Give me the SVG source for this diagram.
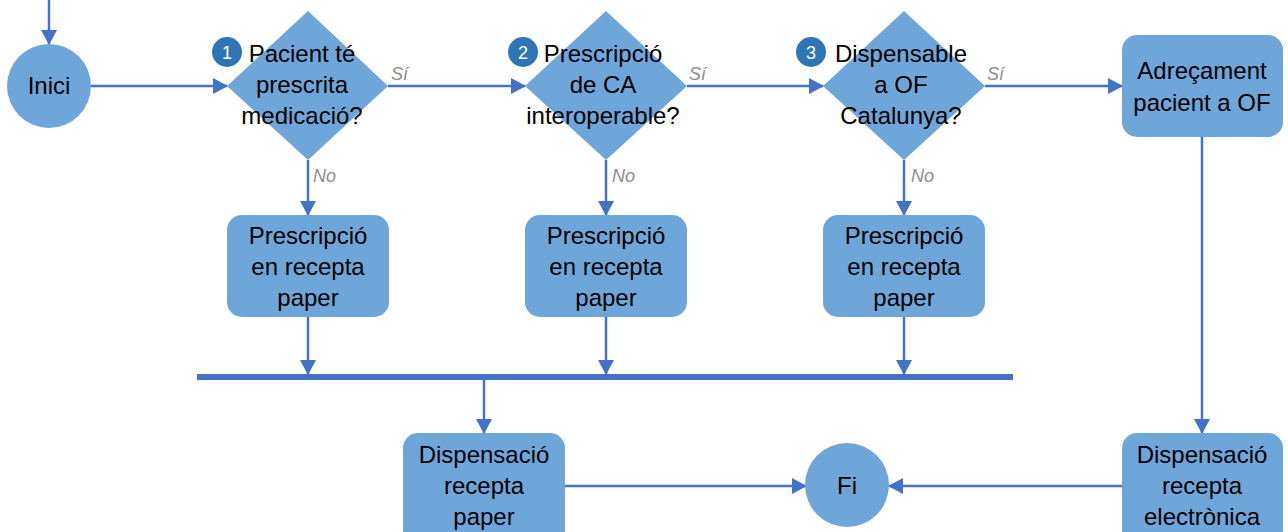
<svg xmlns="http://www.w3.org/2000/svg" width="1288" height="532" viewBox="0 0 1288 532">
<style>
.n{fill:#6FA6DA;stroke:none}
.t{font-family:"Liberation Sans",Arial,sans-serif;font-size:24px;fill:#000;text-anchor:middle}
.c{fill:none;stroke:#4472C4;stroke-width:2.5}
.lbl{font-family:"Liberation Sans",Arial,sans-serif;font-size:18px;font-style:italic;fill:#8C8C8C}
.b{fill:#2E75B6}
.bt{font-family:"Liberation Sans",Arial,sans-serif;font-size:18px;fill:#fff;text-anchor:middle}
</style>
<defs>
<marker id="ah" markerUnits="userSpaceOnUse" markerWidth="15" markerHeight="16" viewBox="0 0 15 16" refX="14" refY="8" orient="auto">
<path d="M0,0 L15,8 L0,16 Z" fill="#4472C4"/>
</marker>
</defs>
<rect width="1288" height="532" fill="#fff"/>
<g id="connectors">
<line class="c" x1="49" y1="0" x2="49" y2="44" marker-end="url(#ah)"/>
<line class="c" x1="91" y1="86" x2="227" y2="86" marker-end="url(#ah)"/>
<line class="c" x1="388" y1="86" x2="525" y2="86" marker-end="url(#ah)"/>
<line class="c" x1="687" y1="86" x2="823" y2="86" marker-end="url(#ah)"/>
<line class="c" x1="985" y1="86" x2="1122" y2="86" marker-end="url(#ah)"/>
<line class="c" x1="308" y1="160" x2="308" y2="215" marker-end="url(#ah)"/>
<line class="c" x1="606" y1="160" x2="606" y2="215" marker-end="url(#ah)"/>
<line class="c" x1="904" y1="160" x2="904" y2="215" marker-end="url(#ah)"/>
<line class="c" x1="308" y1="317" x2="308" y2="374" marker-end="url(#ah)"/>
<line class="c" x1="606" y1="317" x2="606" y2="374" marker-end="url(#ah)"/>
<line class="c" x1="904" y1="317" x2="904" y2="374" marker-end="url(#ah)"/>
<line x1="197" y1="377" x2="1013" y2="377" stroke="#4472C4" stroke-width="6"/>
<line class="c" x1="484" y1="380" x2="484" y2="433" marker-end="url(#ah)"/>
<line class="c" x1="1202" y1="137" x2="1202" y2="433" marker-end="url(#ah)"/>
<line class="c" x1="565" y1="486" x2="806" y2="486" marker-end="url(#ah)"/>
<line class="c" x1="1122" y1="486" x2="889" y2="486" marker-end="url(#ah)"/>
<text class="lbl" x="391" y="80">Sí</text>
<text class="lbl" x="689" y="80">Sí</text>
<text class="lbl" x="987" y="80">Sí</text>
<text class="lbl" x="313" y="182">No</text>
<text class="lbl" x="612" y="182">No</text>
<text class="lbl" x="911" y="182">No</text>
</g>
<g id="inici">
<circle class="n" cx="49" cy="86" r="42"/>
<text class="t" x="49" y="94">Inici</text>
</g>
<g id="d1">
<polygon class="n" points="308,11 388,86 308,160 227,86"/>
<text class="t" x="302" y="62">Pacient té</text>
<text class="t" x="302" y="93">prescrita</text>
<text class="t" x="302" y="124">medicació?</text>
<circle class="b" cx="227" cy="52" r="15"/>
<text class="bt" x="227" y="58.5">1</text>
</g>
<g id="d2">
<polygon class="n" points="606,11 687,86 606,160 525,86"/>
<text class="t" x="603" y="62">Prescripció</text>
<text class="t" x="603" y="93">de CA</text>
<text class="t" x="603" y="124">interoperable?</text>
<circle class="b" cx="523" cy="52" r="15"/>
<text class="bt" x="523" y="58.5">2</text>
</g>
<g id="d3">
<polygon class="n" points="904,11 985,86 904,160 823,86"/>
<text class="t" x="901" y="62">Dispensable</text>
<text class="t" x="901" y="93">a OF</text>
<text class="t" x="901" y="124">Catalunya?</text>
<circle class="b" cx="811" cy="52" r="15"/>
<text class="bt" x="811" y="58.5">3</text>
</g>
<g id="adrecament">
<rect class="n" x="1122" y="35" width="161" height="102" rx="15"/>
<text class="t" x="1202" y="79">Adreçament</text>
<text class="t" x="1202" y="111">pacient a OF</text>
</g>
<g id="p1">
<rect class="n" x="227" y="215" width="162" height="102" rx="15"/>
<text class="t" x="308" y="244">Prescripció</text>
<text class="t" x="308" y="275">en recepta</text>
<text class="t" x="308" y="306">paper</text>
</g>
<g id="p2">
<rect class="n" x="525" y="215" width="162" height="102" rx="15"/>
<text class="t" x="606" y="244">Prescripció</text>
<text class="t" x="606" y="275">en recepta</text>
<text class="t" x="606" y="306">paper</text>
</g>
<g id="p3">
<rect class="n" x="823" y="215" width="162" height="102" rx="15"/>
<text class="t" x="904" y="244">Prescripció</text>
<text class="t" x="904" y="275">en recepta</text>
<text class="t" x="904" y="306">paper</text>
</g>
<g id="disp-paper">
<rect class="n" x="403" y="433" width="162" height="112" rx="15"/>
<text class="t" x="484" y="463">Dispensació</text>
<text class="t" x="484" y="494">recepta</text>
<text class="t" x="484" y="525">paper</text>
</g>
<g id="fi">
<circle class="n" cx="847" cy="485" r="42"/>
<text class="t" x="847" y="494">Fi</text>
</g>
<g id="disp-elec">
<rect class="n" x="1122" y="433" width="161" height="112" rx="15"/>
<text class="t" x="1202" y="463">Dispensació</text>
<text class="t" x="1202" y="494">recepta</text>
<text class="t" x="1202" y="525">electrònica</text>
</g>
</svg>
